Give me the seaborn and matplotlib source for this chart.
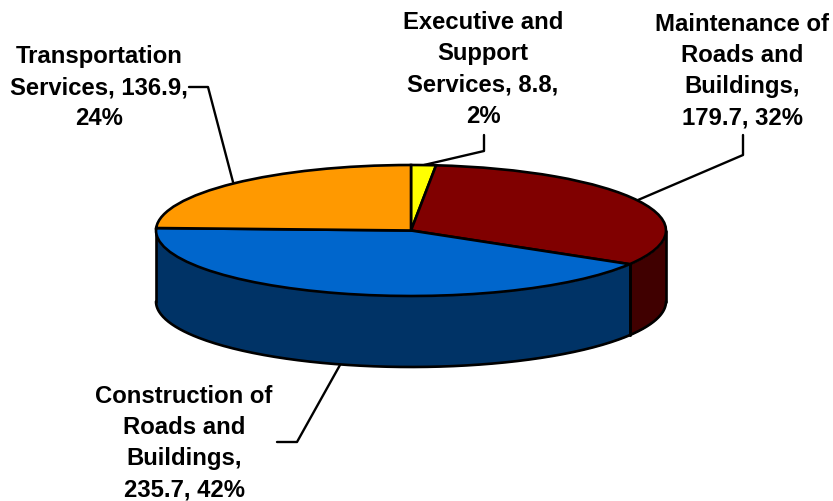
import numpy as np
import pandas as pd
import matplotlib
matplotlib.use('Agg')
import matplotlib.pyplot as plt
import seaborn as sns

# Budget categories, clockwise from 12 o'clock
categories = ['Executive and Support Services', 'Maintenance of Roads and Buildings',
              'Construction of Roads and Buildings', 'Transportation Services']
values = [8.8, 179.7, 235.7, 136.9]
labels = ['Executive and\nSupport\nServices, 8.8,\n2%',
          'Maintenance of\nRoads and\nBuildings,\n179.7, 32%',
          'Construction of\nRoads and\nBuildings,\n235.7, 42%',
          'Transportation\nServices, 136.9,\n24%']
top_colors = ['#FFFF00', '#800000', '#0066CC', '#FF9900']
side_colors = ['#808000', '#400000', '#003366', '#804C00']

sns.set_theme(style='white')
plt.rcParams['font.family'] = ['Liberation Sans', 'DejaVu Sans']

df = pd.DataFrame({'category': categories, 'value': values, 'label': labels})

W, H = 833, 501
CX, CY, RX, RY, DEPTH = 411, 230.5, 255, 65.5, 71


def px(x, y):
    # picture pixels to the squashed pie's data units
    return (x - CX) / RX, (CY - y) / RY


fig = plt.figure(figsize=(W / 100, H / 100), dpi=100)
ax = fig.add_axes([0, 0, 1, 1])

# side wall first, only the part of each slice facing the viewer
edges = np.concatenate([[0], np.cumsum(df['value'])]) / df['value'].sum() * 2 * np.pi
d = DEPTH / RY
for i in range(len(df)):
    lo, hi = max(edges[i], np.pi / 2), min(edges[i + 1], 3 * np.pi / 2)
    if hi <= lo:
        continue
    t = np.linspace(lo, hi, 200)
    x, y = np.sin(t), np.cos(t)
    ax.fill_between(x, y, y - d, color=side_colors[i], lw=0, zorder=1)
    ax.plot(x, y - d, color='black', lw=1.9, zorder=2)
    for s in (lo, hi):
        ax.plot([np.sin(s)] * 2, [np.cos(s), np.cos(s) - d], color='black', lw=1.9, zorder=2)

# top face
ax.pie(df['value'], colors=top_colors, startangle=90, counterclock=False, radius=1,
       center=(0, 0), frame=True,
       wedgeprops={'edgecolor': 'black', 'linewidth': 1.9, 'zorder': 3})

ax.set_aspect('auto')
ax.set_xlim(*[px(v, 0)[0] for v in (0, W)])
ax.set_ylim(*[px(0, v)[1] for v in (H, 0)])
ax.axis('off')

# leader lines
leaders = [
    [(424, 165), (484, 151), (484, 135)],
    [(638, 200), (743, 155), (743, 135)],
    [(340, 365), (297, 442), (277, 442)],
    [(233, 182), (208, 87), (189, 87)],
]
for pts in leaders:
    xs, ys = zip(*[px(*p) for p in pts])
    ax.plot(xs, ys, color='black', lw=1.7, zorder=0)

# data labels
label_pos = [(483, 69.5), (742, 71), (184, 443), (99, 87.5)]
for lab, pos in zip(df['label'], label_pos):
    ax.text(*px(*pos), lab, ha='center', va='center', fontsize=17.2, fontweight='bold',
            color='black', linespacing=1.45)

fig.savefig('out.png', dpi=100)
